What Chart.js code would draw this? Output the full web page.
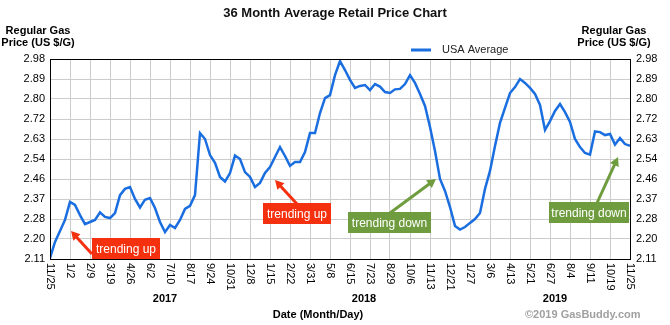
<!DOCTYPE html>
<html>
<head>
<meta charset="utf-8">
<script src="https://cdn.jsdelivr.net/npm/chart.js@4.4.0/dist/chart.umd.min.js"></script>
<style>
    body { margin: 0; background: #fff; }
</style>
</head>
<body>
<canvas id="priceChart" width="670" height="325"></canvas>
<script>
// tick labels
const dateLabels = ['11/25', '1/2', '2/9', '3/19', '4/26', '6/2', '7/10', '8/17', '9/24', '10/31',
    '12/8', '1/15', '2/22', '3/31', '5/8', '6/15', '7/23', '8/29', '10/6', '11/13',
    '12/21', '1/27', '3/6', '4/13', '5/21', '6/27', '8/4', '9/11', '10/19', '11/25'];
const yearLabels = ['2017', '2018', '2019'];
const priceTicks = ['2.11', '2.20', '2.28', '2.37', '2.46', '2.54', '2.63', '2.72', '2.80', '2.89', '2.98'];

// USA average, 4 readings between each pair of date ticks
const prices = [
    2.114, 2.184, 2.232, 2.280,
    2.358, 2.345, 2.301, 2.262,
    2.271, 2.280, 2.313, 2.293,
    2.288, 2.310, 2.388, 2.415,
    2.423, 2.371, 2.334, 2.368,
    2.375, 2.332, 2.271, 2.227,
    2.258, 2.245, 2.280, 2.328,
    2.341, 2.388, 2.658, 2.632,
    2.562, 2.528, 2.467, 2.447,
    2.484, 2.560, 2.545, 2.488,
    2.467, 2.423, 2.441, 2.484,
    2.510, 2.554, 2.597, 2.558,
    2.515, 2.532, 2.532, 2.575,
    2.658, 2.658, 2.745, 2.810,
    2.823, 2.910, 2.971, 2.932,
    2.889, 2.854, 2.863, 2.867,
    2.845, 2.871, 2.860, 2.836,
    2.832, 2.848, 2.850, 2.871,
    2.910, 2.876, 2.828, 2.776,
    2.684, 2.580, 2.458, 2.406,
    2.336, 2.254, 2.238, 2.249,
    2.267, 2.284, 2.310, 2.415,
    2.493, 2.602, 2.702, 2.767,
    2.832, 2.858, 2.893, 2.876,
    2.854, 2.828, 2.780, 2.671,
    2.710, 2.754, 2.784, 2.749,
    2.706, 2.632, 2.597, 2.571,
    2.564, 2.665, 2.662, 2.649,
    2.654, 2.608, 2.636, 2.610,
    2.602
];

const STEP = 4; // readings per date tick
const yMin = parseFloat(priceTicks[0]);
const yMax = parseFloat(priceTicks[priceTicks.length - 1]);
const FONT = "'Liberation Sans', Arial, sans-serif";
Chart.defaults.font.family = FONT;

function priceTickList(scale) {
    scale.ticks = priceTicks.map((t, i) => ({ value: yMin + i * (yMax - yMin) / (priceTicks.length - 1) }));
}

// trend call-outs
const callouts = [
    { text: 'trending up', color: '#f5300f', box: [92, 238, 68, 21], tail: [92, 254], tip: [71, 231] },
    { text: 'trending up', color: '#f5300f', box: [263, 203, 68, 21], tail: [297, 204], tip: [275, 180] },
    { text: 'trending down', color: '#6f9c3e', box: [348, 212, 83, 21], tail: [390, 213], tip: [436, 179] },
    { text: 'trending down', color: '#6f9c3e', box: [549, 202, 80, 21], tail: [597, 203], tip: [618, 157] }
];

function drawArrow(ctx, from, to, color) {
    const ang = Math.atan2(to[1] - from[1], to[0] - from[0]);
    const head = 10;
    ctx.save();
    ctx.strokeStyle = color;
    ctx.fillStyle = color;
    ctx.lineWidth = 3;
    ctx.beginPath();
    ctx.moveTo(from[0], from[1]);
    ctx.lineTo(to[0] - Math.cos(ang) * head * 0.8, to[1] - Math.sin(ang) * head * 0.8);
    ctx.stroke();
    ctx.beginPath();
    ctx.moveTo(to[0], to[1]);
    ctx.lineTo(to[0] - head * Math.cos(ang - 0.5), to[1] - head * Math.sin(ang - 0.5));
    ctx.lineTo(to[0] - head * Math.cos(ang + 0.5), to[1] - head * Math.sin(ang + 0.5));
    ctx.closePath();
    ctx.fill();
    ctx.restore();
}

const extrasPlugin = {
    id: 'extras',
    afterDraw(chart) {
        const ctx = chart.ctx;
        const area = chart.chartArea;
        const xs = chart.scales.x;
        ctx.save();

        // frame
        ctx.strokeStyle = '#000';
        ctx.lineWidth = 1;
        ctx.strokeRect(Math.round(area.left) + 0.5, Math.round(area.top) + 0.5,
            Math.round(area.right - area.left), Math.round(area.bottom - area.top));

        // date labels, rotated clockwise
        ctx.fillStyle = '#000';
        ctx.font = '11px ' + FONT;
        ctx.textAlign = 'left';
        ctx.textBaseline = 'middle';
        dateLabels.forEach((lbl, i) => {
            ctx.save();
            ctx.translate(xs.getPixelForValue(i * STEP), area.bottom + 4);
            ctx.rotate(Math.PI / 2);
            ctx.fillText(lbl, 0, 0);
            ctx.restore();
        });

        // years
        ctx.font = 'bold 11px ' + FONT;
        ctx.textAlign = 'center';
        const yearPos = [5.75, 15.7, 25.25];
        yearLabels.forEach((y, i) => {
            ctx.fillText(y, xs.getPixelForValue(yearPos[i] * STEP), 299);
        });
        ctx.fillText('Date (Month/Day)', 318, 315);

        // axis titles on both sides
        ['Regular Gas', 'Price (US $/G)'].forEach((t, i) => {
            ctx.fillText(t, 38, 31 + i * 12);
            ctx.fillText(t, 614, 31 + i * 12);
        });

        // legend
        ctx.strokeStyle = chart.data.datasets[0].borderColor;
        ctx.lineWidth = 3;
        ctx.beginPath();
        ctx.moveTo(411, 50);
        ctx.lineTo(431, 50);
        ctx.stroke();
        ctx.font = '11px ' + FONT;
        ctx.textAlign = 'left';
        ctx.fillStyle = '#222';
        ctx.fillText(chart.data.datasets[0].label, 442, 50);

        // copyright
        ctx.font = 'bold 11px ' + FONT;
        ctx.fillStyle = '#a0a0a0';
        ctx.fillText('\u00a92019 GasBuddy.com', 525, 315);

        // call-outs
        callouts.forEach(c => {
            drawArrow(ctx, c.tail, c.tip, c.color);
            ctx.fillStyle = c.color;
            ctx.fillRect(c.box[0], c.box[1], c.box[2], c.box[3]);
            ctx.fillStyle = '#fff';
            ctx.font = '12px ' + FONT;
            ctx.textAlign = 'center';
            ctx.fillText(c.text, c.box[0] + c.box[2] / 2, c.box[1] + c.box[3] / 2 + 1);
        });

        ctx.restore();
    }
};

new Chart(document.getElementById('priceChart'), {
    type: 'line',
    data: {
        labels: prices.map((p, i) => i),
        datasets: [{
            label: 'USA Average',
            data: prices,
            borderColor: '#1a6ee0',
            borderWidth: 2.5,
            pointRadius: 0,
            tension: 0,
            fill: false,
            yAxisID: 'y'
        }]
    },
    options: {
        responsive: false,
        animation: false,
        devicePixelRatio: 1,
        plugins: {
            legend: { display: false },
            tooltip: { enabled: false },
            title: {
                display: true,
                text: '36 Month Average Retail Price Chart',
                color: '#111',
                font: { size: 13, weight: 'bold' },
                padding: { top: 6, bottom: 37.4 }
            }
        },
        scales: {
            x: {
                type: 'linear',
                min: 0,
                max: prices.length - 1,
                afterBuildTicks: s => { s.ticks = dateLabels.map((l, i) => ({ value: i * STEP })); },
                ticks: { display: false },
                grid: { color: '#cccccc', drawTicks: false },
                border: { color: '#000' },
                afterFit: s => { s.height = 66; }
            },
            y: {
                position: 'left',
                min: yMin,
                max: yMax,
                afterBuildTicks: priceTickList,
                ticks: {
                    callback: (v, i) => priceTicks[i],
                    color: '#000',
                    font: { size: 11 },
                    padding: 5
                },
                grid: { color: '#cccccc', drawTicks: false },
                border: { color: '#000' },
                afterFit: s => { s.width = 50; }
            },
            y2: {
                position: 'right',
                min: yMin,
                max: yMax,
                afterBuildTicks: priceTickList,
                ticks: {
                    callback: (v, i) => priceTicks[i],
                    color: '#000',
                    font: { size: 11 },
                    padding: 6
                },
                grid: { display: false, drawTicks: false },
                border: { color: '#000' },
                afterFit: s => { s.width = 40; }
            }
        }
    },
    plugins: [extrasPlugin]
});
</script>
</body>
</html>
